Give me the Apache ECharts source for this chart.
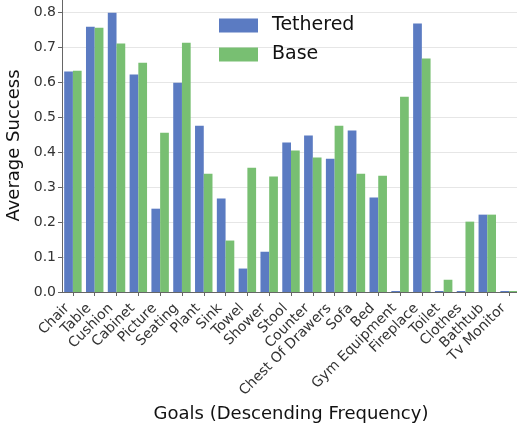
<!DOCTYPE html>
<html>
<head>
<meta charset="utf-8">
<script src="https://cdn.jsdelivr.net/npm/echarts@6/dist/echarts.min.js"></script>
<style>
  html, body { margin: 0; padding: 0; background: #fff; }
  #chart { width: 517px; height: 427px; }
</style>
</head>
<body>
<div id="chart"></div>
<script>
// Goal categories, ordered by how often they occur
const goals = ["Chair", "Table", "Cushion", "Cabinet", "Picture", "Seating", "Plant", "Sink",
  "Towel", "Shower", "Stool", "Counter", "Chest Of Drawers", "Sofa", "Bed", "Gym Equipment",
  "Fireplace", "Toilet", "Clothes", "Bathtub", "Tv Monitor"];

// Average success per goal for each agent
const tethered = [0.630, 0.758, 0.798, 0.621, 0.238, 0.598, 0.475, 0.267,
  0.067, 0.115, 0.427, 0.447, 0.381, 0.461, 0.270, 0.0,
  0.767, 0.0, 0.0, 0.221, 0.0];
const base = [0.632, 0.755, 0.710, 0.655, 0.455, 0.712, 0.338, 0.147,
  0.355, 0.330, 0.404, 0.384, 0.475, 0.338, 0.332, 0.558,
  0.667, 0.035, 0.201, 0.221, 0.0];

const yTicks = [0, 0.1, 0.2, 0.3, 0.4, 0.5, 0.6, 0.7, 0.8];

const font = "DejaVu Sans";
const chart = echarts.init(document.getElementById("chart"), null, { renderer: "canvas" });

chart.setOption({
  animation: false,
  backgroundColor: "#ffffff",
  textStyle: { fontFamily: font },
  legend: {
    orient: "vertical",
    left: 219,
    top: 16,
    padding: 0,
    itemWidth: 39,
    itemHeight: 14,
    itemGap: 10,
    icon: "rect",
    textStyle: { fontFamily: font, fontSize: 19, color: "#111", padding: [0, 0, 0, 9] },
    data: ["Tethered", "Base"]
  },
  // the plot area runs a few pixels past the right edge of the canvas
  grid: { left: 62, right: -3, top: -1, bottom: 135, containLabel: false, outerBoundsMode: "none" },
  xAxis: {
    type: "category",
    data: goals,
    name: "Goals (Descending Frequency)",
    nameLocation: "middle",
    nameGap: 113,
    nameTextStyle: { fontFamily: font, fontSize: 18, color: "#111", padding: [0, 0, 0, 0] },
    axisLine: { lineStyle: { color: "#666", width: 1 } },
    axisTick: { show: true, alignWithLabel: true, length: 4, lineStyle: { color: "#666" } },
    axisLabel: {
      rotate: 45, interval: 0, margin: 8.5, padding: [0, 8, 0, 0],
      fontFamily: font, fontSize: 14, color: "#333"
    },
    splitLine: { show: false }
  },
  yAxis: {
    type: "value",
    min: 0,
    max: 0.837,
    interval: 0.1,
    name: "Average Success",
    nameLocation: "middle",
    nameGap: 38,
    nameTextStyle: { fontFamily: font, fontSize: 18, color: "#111" },
    axisLine: { show: true, lineStyle: { color: "#666", width: 1 } },
    axisTick: { show: true, length: 4, lineStyle: { color: "#666" }, customValues: yTicks },
    axisLabel: {
      fontFamily: font, fontSize: 14, color: "#333", margin: 6,
      customValues: yTicks,
      formatter: v => v.toFixed(1)
    },
    splitLine: { show: true, lineStyle: { color: "#e6e6e6", width: 1 } }
  },
  series: [
    {
      name: "Tethered",
      type: "bar",
      data: tethered,
      barGap: "0%",
      barCategoryGap: "20%",
      barMinHeight: 1,
      itemStyle: { color: "#5b7bc2" }
    },
    {
      name: "Base",
      type: "bar",
      data: base,
      barGap: "0%",
      barCategoryGap: "20%",
      barMinHeight: 1,
      itemStyle: { color: "#78bf72" }
    }
  ]
});
</script>
</body>
</html>
